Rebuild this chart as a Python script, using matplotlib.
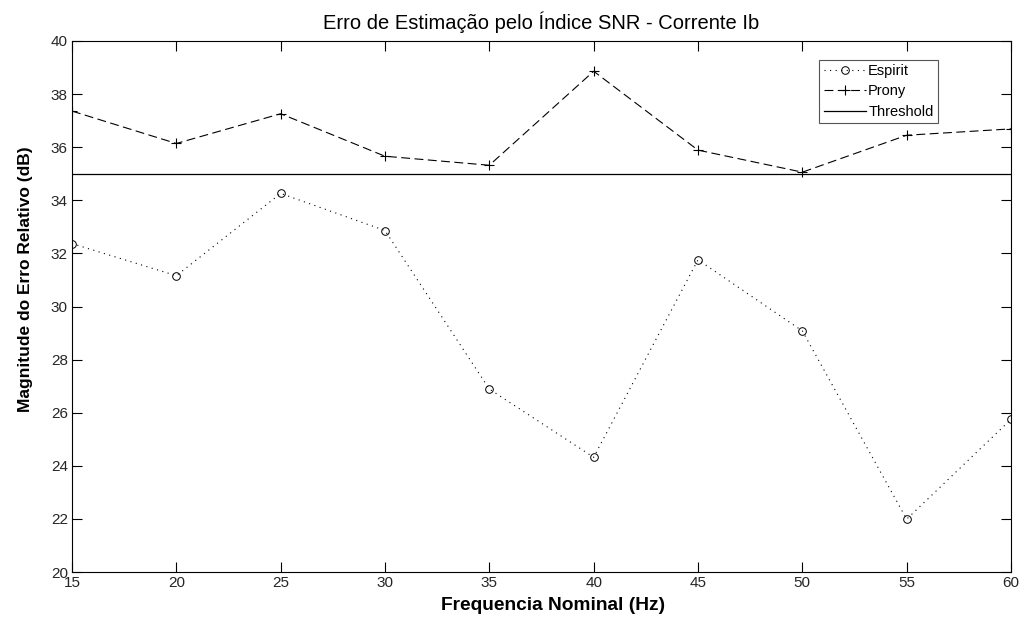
import matplotlib
matplotlib.use("Agg")
import matplotlib.pyplot as plt

plt.rcParams["font.family"] = ["Liberation Sans", "DejaVu Sans"]

# frequências nominais (Hz) e índice SNR (dB) de cada método
freqs = [15, 20, 25, 30, 35, 40, 45, 50, 55, 60]
espirit = [32.37, 31.16, 34.26, 32.86, 26.89, 24.32, 31.76, 29.08, 21.99, 25.75]
prony = [37.36, 36.14, 37.26, 35.66, 35.32, 38.86, 35.89, 35.06, 36.45, 36.69]
threshold = 35.0

fig = plt.figure(figsize=(10.2, 6.22), dpi=100)
ax = fig.add_axes([72 / 1020, 1 - 572 / 622, (1011 - 72) / 1020, (572 - 41) / 622])

ax.plot(freqs, espirit, linestyle=(0, (1, 4)), color="black", linewidth=0.8,
        marker="o", markersize=5.5, markerfacecolor="none", markeredgewidth=0.7,
        label="Espirit")
ax.plot(freqs, prony, linestyle=(0, (8, 4)), color="black", linewidth=0.8,
        marker="+", markersize=6.5, markeredgewidth=0.8, label="Prony")
ax.axhline(threshold, color="black", linewidth=0.9, label="Threshold")

ax.set_xlim(15, 60)
ax.set_ylim(20, 40)
ax.set_xticks(freqs)
ax.set_yticks(range(20, 41, 2))
ax.tick_params(direction="in", length=7, width=0.8, top=True, right=True,
               labelsize=11, labelcolor="#262626", pad=3)
for s in ax.spines.values():
    s.set_linewidth(0.8)

ax.set_title("Erro de Estimação pelo Índice SNR - Corrente Ib", fontsize=14.5, pad=8.5)
ax.set_xlabel("Frequencia Nominal (Hz)", fontsize=13.8, fontweight="bold")
ax.set_ylabel("Magnitude do Erro Relativo (dB)", fontsize=12.5, fontweight="bold")
ax.xaxis.set_label_coords((553 - 72) / 939, -(605 - 572) / 531)
ax.yaxis.set_label_coords(-(72 - 26) / 939, (572 - 279) / 531)
ax.xaxis.label.set_va("center")
ax.yaxis.label.set_va("center")

leg = ax.legend(loc="upper right", bbox_to_anchor=((938 - 72) / 939, (572 - 60) / 531),
                fontsize=10.5, frameon=True, fancybox=False, framealpha=1,
                edgecolor="#555555", handlelength=2.9, handletextpad=0.15,
                borderpad=0.3, labelspacing=0.42, borderaxespad=0)
leg.get_frame().set_linewidth(0.8)

fig.savefig("out.png", dpi=100, facecolor="white")
